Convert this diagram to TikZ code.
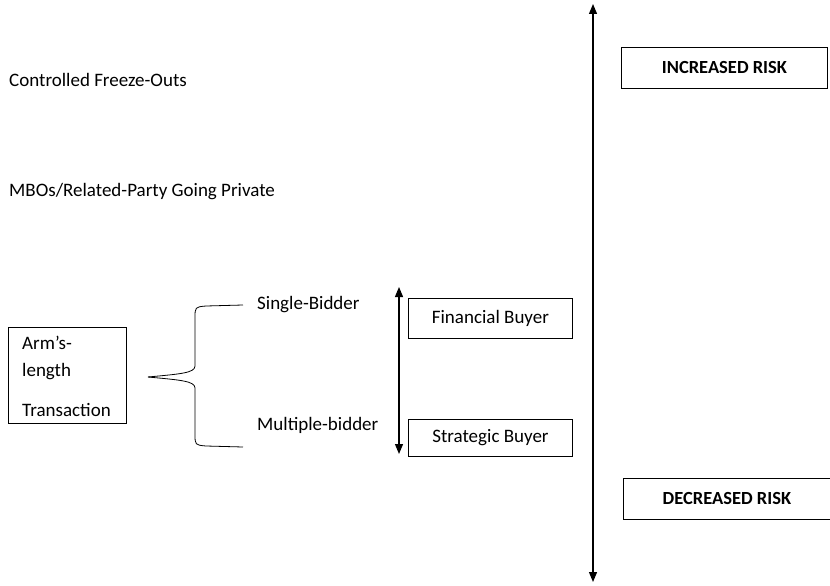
\documentclass[tikz,border=0pt]{standalone}
\usepackage{fontspec}
\setmainfont{Carlito}
\usetikzlibrary{arrows.meta}
\begin{document}
\begin{tikzpicture}[x=1pt,y=-1pt,
  lbl/.style={anchor=west,inner sep=0pt,font=\fontsize{19}{22}\selectfont},
  riskbox/.style={draw,line width=0.9pt,minimum width=206pt,minimum height=41pt,anchor=north west,font=\fontsize{18.5}{22}\selectfont\bfseries},
  buybox/.style={draw,line width=0.9pt,minimum width=164pt,anchor=north west,font=\fontsize{19}{22}\selectfont},
  arr/.style={line width=1.2pt,{Triangle[length=10pt,width=8pt]}-{Triangle[length=10pt,width=8pt]}}]
\useasboundingbox (0,0) rectangle (830,586);
\node[lbl] (cfo) at (9,80) {Controlled Freeze-Outs};
\node[lbl] (mbo) at (9,192) {MBOs/Related-Party Going Private};
\coordinate (top) at (593,4);
\coordinate (bot) at (593,582);
\draw[arr] (top) -- (bot);
\node[riskbox] (inc) at (621,47) {INCREASED RISK};
\node[riskbox,minimum width=207pt] (dec) at (623,478) {DECREASED RISK};
\node[draw,line width=0.9pt,anchor=north west,minimum width=118pt,minimum height=96pt] (arm) at (8,327) {};
\node[lbl] (t1) at (22,343) {Arm’s-};
\node[lbl] (t2) at (22,372) {length};
\node[lbl] (t3) at (22,410) {Transaction};
\coordinate (tip) at (148,377);
\coordinate (btop) at (243,305);
\coordinate (bbot) at (243,447);
\draw[line width=0.8pt] (btop) -- (206,306) .. controls (195,307) .. (195,318) -- (195,366) .. controls (195,373) and (180,374) .. (tip);
\draw[line width=0.8pt] (bbot) -- (206,446) .. controls (195,445) .. (195,434) -- (195,388) .. controls (195,381) and (180,380) .. (tip);
\node[lbl] (sb) at (257,305) {Single-Bidder};
\node[lbl] (mb) at (257,425) {Multiple-bidder};
\coordinate (stop) at (399,287);
\coordinate (sbot) at (399,454);
\draw[arr] (stop) -- (sbot);
\node[buybox,minimum height=40pt] (fin) at (408,298) {Financial Buyer};
\node[buybox,minimum height=37pt] (str) at (408,419) {Strategic Buyer};
\end{tikzpicture}
\end{document}
